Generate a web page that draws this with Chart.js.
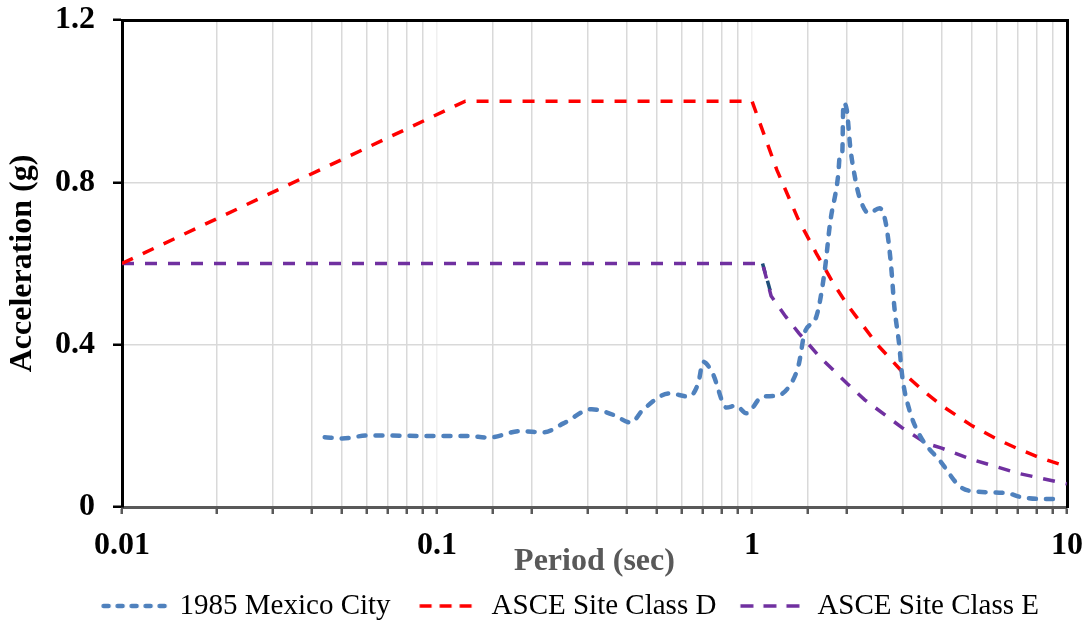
<!DOCTYPE html>
<html>
<head>
<meta charset="utf-8">
<script src="https://cdn.jsdelivr.net/npm/chart.js@4.4.1/dist/chart.umd.min.js"></script>
<style>
  html, body { margin: 0; padding: 0; background: #fff; }
  #wrap { width: 1092px; height: 622px; }
</style>
</head>
<body>
<div id="wrap"><canvas id="spectra" width="1092" height="622"></canvas></div>
<script>
// ---- data ----
const mexicoT  = [0.044, 0.050, 0.060, 0.071, 0.089, 0.100, 0.125, 0.146, 0.184, 0.218, 0.252, 0.31, 0.363, 0.413, 0.45, 0.548, 0.63, 0.675, 0.70, 0.75, 0.83, 0.89, 0.96, 1.08, 1.20, 1.35, 1.41, 1.47, 1.60, 1.70, 1.77, 1.88, 1.90, 1.935, 1.95, 2.00, 2.05, 2.13, 2.19, 2.35, 2.54, 2.66, 2.76, 2.83, 2.93, 3.0, 3.16, 3.43, 3.97, 4.58, 5.16, 6.45, 7.1, 8.05, 9.4];
const mexicoSa = [0.172, 0.169, 0.176, 0.176, 0.175, 0.175, 0.175, 0.171, 0.187, 0.184, 0.206, 0.241, 0.227, 0.208, 0.239, 0.280, 0.272, 0.305, 0.358, 0.329, 0.245, 0.250, 0.231, 0.272, 0.274, 0.313, 0.354, 0.43, 0.469, 0.58, 0.70, 0.822, 0.867, 0.875, 0.995, 0.978, 0.888, 0.806, 0.765, 0.724, 0.736, 0.699, 0.600, 0.494, 0.403, 0.321, 0.239, 0.173, 0.112, 0.050, 0.038, 0.034, 0.025, 0.020, 0.020];

const classDT  = [0.01, 0.123, 1.0, 1.2, 1.4, 1.6, 1.8, 2, 2.5, 3, 3.5, 4, 5, 6, 7, 8, 9, 10];
const classDSa = [0.6, 1.0, 1.0, 0.83, 0.71, 0.625, 0.555, 0.5, 0.4, 0.333, 0.286, 0.25, 0.2, 0.167, 0.143, 0.125, 0.111, 0.1];

const classET  = [0.01, 1.08, 1.15, 1.2, 1.28, 1.41, 1.64, 2, 2.28, 3, 3.57, 4, 5, 7, 10];
const classESa = [0.6, 0.6, 0.52, 0.5, 0.469, 0.428, 0.37, 0.305, 0.264, 0.195, 0.157, 0.145, 0.117, 0.083, 0.057];

// short dark piece at the knee of class E
const kneeT  = [1.08, 1.16];
const kneeSa = [0.6, 0.515];

const xTickLabels = {0.01: "0.01", 0.1: "0.1", 1: "1", 10: "10"};
const yTickLabels = {0: "0", 0.4: "0.4", 0.8: "0.8", 1.2: "1.2"};

const serif = "'Times New Roman', 'Liberation Serif', serif";

function toPoints(xs, ys) {
  let pts = [];
  for (let i = 0; i < xs.length; i++) pts.push({x: xs[i], y: ys[i]});
  return pts;
}

function isDecade(v) {
  let l = Math.log10(v);
  return Math.abs(l - Math.round(l)) < 1e-6;
}

// little dashed line samples for the legend (canvas point styles)
function makeSample(color, width, dash, cap, from, to) {
  let c = document.createElement("canvas");
  c.width = 86; c.height = 12;
  let g = c.getContext("2d");
  g.strokeStyle = color;
  g.lineWidth = width;
  g.lineCap = cap;
  g.setLineDash(dash);
  g.beginPath();
  g.moveTo(from, 6);
  g.lineTo(to, 6);
  g.stroke();
  return c;
}
const samples = [
  makeSample("#4f81bd", 4.5, [5, 9], "round", 17.5, 83.5),
  makeSample("#ff0000", 3.5, [12, 8], "butt", 21.5, 73.5),
  makeSample("#7030a0", 3.5, [13, 10], "butt", 16.5, 75.5)
];

// move the legend row where the original had it
const legendShift = {
  id: "legendShift",
  afterLayout(chart) {
    const dx = 20;
    chart.legend.left += dx;
    chart.legend.right += dx;
  }
};

const ctx = document.getElementById("spectra");
new Chart(ctx, {
  type: "line",
  data: {
    datasets: [
      {
        label: "1985 Mexico City",
        data: toPoints(mexicoT, mexicoSa),
        borderColor: "#4f81bd",
        backgroundColor: "#4f81bd",
        borderWidth: 4.5,
        borderDash: [7, 10],
        borderCapStyle: "round",
        cubicInterpolationMode: "monotone",
        pointRadius: 0,
        fill: false
      },
      {
        label: "ASCE Site Class D",
        data: toPoints(classDT, classDSa),
        borderColor: "#ff0000",
        backgroundColor: "#ff0000",
        borderWidth: 3.5,
        borderDash: [12, 11],
        tension: 0,
        pointRadius: 0,
        fill: false
      },
      {
        label: "ASCE Site Class E",
        data: toPoints(classET, classESa),
        borderColor: "#7030a0",
        backgroundColor: "#7030a0",
        borderWidth: 3.5,
        borderDash: [12, 11],
        tension: 0,
        pointRadius: 0,
        fill: false
      },
      {
        label: "knee",
        data: toPoints(kneeT, kneeSa),
        borderColor: "#1f4e79",
        borderWidth: 3.5,
        borderDash: [10, 8],
        tension: 0,
        pointRadius: 0,
        fill: false
      }
    ]
  },
  options: {
    responsive: false,
    animation: false,
    layout: { padding: 0 },
    scales: {
      x: {
        type: "logarithmic",
        position: "bottom",
        min: 0.01,
        max: 10,
        grid: {
          color: (c) => (c.tick && isDecade(c.tick.value)) ? "#f0f0f0" : "#d9d9d9",
          lineWidth: 1.5,
          tickColor: "#595959",
          tickLength: 7,
          tickWidth: 2.5
        },
        border: { color: "#595959", width: 3 },
        ticks: {
          autoSkip: false,
          maxRotation: 0,
          padding: 2,
          color: "#000",
          font: { family: serif, size: 32, weight: "bold", lineHeight: 1.875 },
          callback: (v) => isDecade(v) ? (xTickLabels[Number(v.toPrecision(3))] || String(v)) : ""
        },
        title: {
          display: true,
          text: "Period (sec)",
          color: "#595959",
          font: { family: serif, size: 32, weight: "bold" },
          padding: { top: 0, bottom: -4 }
        },
        afterFit: (s) => { s.height = 70; }
      },
      xTop: {
        type: "linear",
        axis: "x",
        position: "top",
        min: 0,
        max: 1,
        grid: { display: false },
        ticks: { display: false },
        border: { color: "#000", width: 3 },
        afterFit: (s) => { s.height = 20; }
      },
      y: {
        type: "linear",
        position: "left",
        min: 0,
        max: 1.2,
        grid: {
          color: "#d9d9d9",
          lineWidth: 1.5,
          tickColor: "#000",
          tickLength: 9,
          tickWidth: 2.5
        },
        border: { color: "#000", width: 3 },
        ticks: {
          stepSize: 0.4,
          padding: 18,
          color: "#000",
          font: { family: serif, size: 32, weight: "bold", lineHeight: 0.05 },
          callback: (v) => yTickLabels[Number(v.toFixed(1))]
        },
        title: {
          display: true,
          text: "Acceleration (g)",
          color: "#000",
          font: { family: serif, size: 32, weight: "bold" },
          padding: { top: 4, bottom: 0 }
        },
        afterFit: (s) => { s.width = 122; }
      },
      yRight: {
        type: "linear",
        position: "right",
        min: 0,
        max: 1.2,
        grid: { display: false },
        ticks: { display: false },
        border: { color: "#000", width: 3 },
        afterFit: (s) => { s.width = 25; }
      }
    },
    plugins: {
      legend: {
        display: true,
        position: "bottom",
        maxHeight: 45,
        labels: {
          usePointStyle: true,
          pointStyleWidth: 72,
          padding: 14.5,
          color: "#000",
          font: { family: serif, size: 29 },
          generateLabels: (chart) => {
            let items = Chart.defaults.plugins.legend.labels.generateLabels(chart);
            items.forEach((it) => { if (samples[it.datasetIndex]) it.pointStyle = samples[it.datasetIndex]; });
            return items;
          },
          filter: (item) => item.text !== "knee"
        }
      },
      tooltip: { enabled: false }
    }
  },
  plugins: [legendShift]
});
</script>
</body>
</html>
